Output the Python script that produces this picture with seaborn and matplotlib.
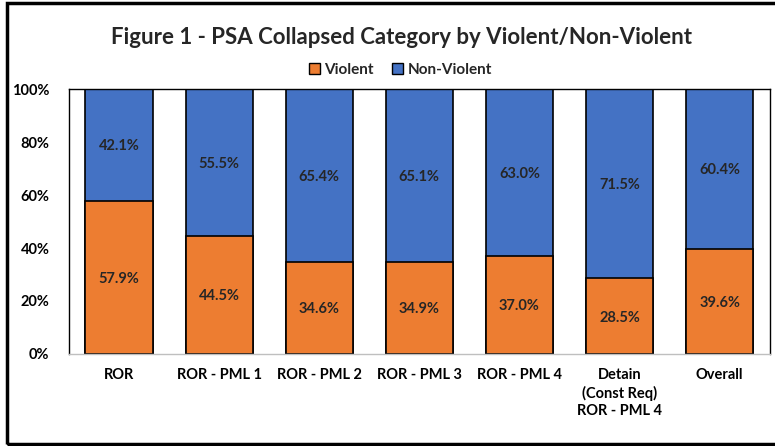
import matplotlib
matplotlib.use("Agg")
import matplotlib.pyplot as plt
import seaborn as sns
import pandas as pd
from matplotlib.patches import Rectangle, Patch

categories = ["ROR", "ROR - PML 1", "ROR - PML 2", "ROR - PML 3", "ROR - PML 4",
              "Detain\n(Const Req)\nROR - PML 4", "Overall"]
violent = [57.9, 44.5, 34.6, 34.9, 37.0, 28.5, 39.6]
non_violent = [42.1, 55.5, 65.4, 65.1, 63.0, 71.5, 60.4]

ORANGE = "#ED7D31"
BLUE = "#4472C4"

sns.set_theme(style="white")
plt.rcParams["font.family"] = ["Lato", "DejaVu Sans"]
plt.rcParams["font.weight"] = "bold"

df = pd.DataFrame({"category": categories, "violent": violent, "non_violent": non_violent})
df["total"] = df["violent"] + df["non_violent"]

fig = plt.figure(figsize=(7.75, 4.46), dpi=100)
ax = fig.add_axes([0.089, 0.2063, 0.9042, 0.5941])

# full-height blue bar first, orange drawn over it
sns.barplot(data=df, x="category", y="total", color=BLUE, width=0.67,
            edgecolor="black", linewidth=1.2, saturation=1, ax=ax)
sns.barplot(data=df, x="category", y="violent", color=ORANGE, width=0.67,
            edgecolor="black", linewidth=1.2, saturation=1, ax=ax)

for i, (v, nv) in enumerate(zip(violent, non_violent)):
    ax.text(i, v / 2 - 0.5, f"{v:.1f}%", ha="center", va="center", fontsize=10.5, fontweight="bold")
    ax.text(i, v + nv / 2 - 0.5, f"{nv:.1f}%", ha="center", va="center", fontsize=10.5, fontweight="bold")

ax.set_ylim(0, 100)
ax.set_xlim(-0.5, len(categories) - 0.5)
ax.set_yticks([0, 20, 40, 60, 80, 100])
ax.set_yticklabels([f"{t}%" for t in range(0, 101, 20)], fontsize=10.5, fontweight="bold")
ax.set_xticks(range(len(categories)))
ax.set_xticklabels(categories, fontsize=10.5, fontweight="bold", linespacing=1.3, va="top")
ax.tick_params(axis="both", length=0, pad=10, colors="black")
ax.tick_params(axis="y", pad=14)
ax.set_xlabel("")
ax.set_ylabel("")
for s in ax.spines.values():
    s.set_linewidth(1)
    s.set_visible(True)
ax.spines["left"].set_color("black")
ax.spines["top"].set_color("black")
ax.spines["right"].set_color("black")
ax.spines["bottom"].set_color("#bfbfbf")

fig.text(0.518, 0.915, "Figure 1 - PSA Collapsed Category by Violent/Non-Violent",
         ha="center", va="center", fontsize=16, fontweight="bold")

handles = [Patch(facecolor=ORANGE, edgecolor="black", label="Violent"),
           Patch(facecolor=BLUE, edgecolor="black", label="Non-Violent")]
fig.legend(handles=handles, loc="center", bbox_to_anchor=(0.517, 0.843), ncol=2, frameon=False,
           handlelength=0.7, handleheight=0.7, handletextpad=0.3, columnspacing=1.2,
           prop={"weight": "bold", "size": 11})

# outer frame of the chart
fig.patches.append(Rectangle((0.0095, 0.0045), 1.2, 0.988, transform=fig.transFigure,
                             fill=False, edgecolor="black", linewidth=2.5))

fig.savefig("out.png", dpi=100)
